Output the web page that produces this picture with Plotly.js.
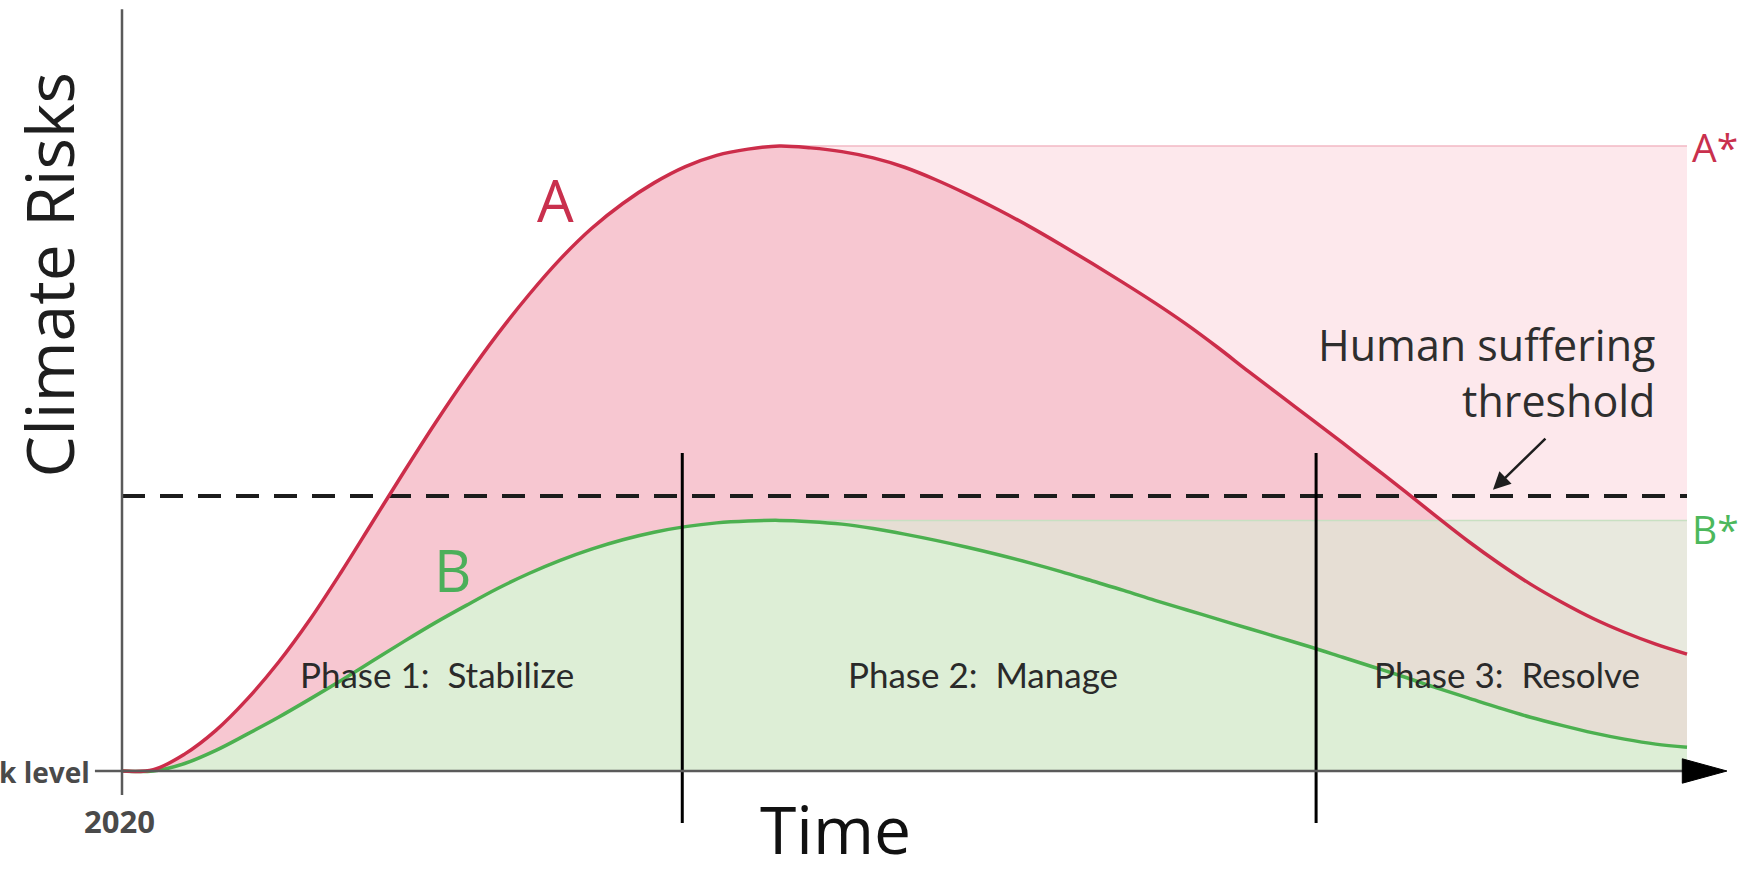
<!DOCTYPE html>
<html>
<head>
<meta charset="utf-8">
<script src="https://cdn.plot.ly/plotly-3.0.1.min.js"></script>
<style>html,body{margin:0;padding:0;background:#fff;}#chart{width:1744px;height:876px;}</style>
</head>
<body>
<div id="chart"></div>
<script>
// ---- data (normalised time 0..100 from 2020, risk 0..100) ----
const timeSteps = [0,2,4,6,8,10,12,14,16,18,20,22,24,26,28,30,32,34,36,38,40,42,44,46,48,50,52,54,56,58,60,62,64,66,68,70,72,74,76,78,80,82,84,86,88,90,92,94,96,98,100];
const riskA = [0,0.2,2.7,6.5,11.5,17.4,24.2,31.8,39.8,47.8,55.6,63.0,69.9,76.2,81.9,86.8,90.8,94.1,96.7,98.5,99.5,100,99.7,99.1,98.1,96.6,94.6,92.3,89.8,87.1,84.2,81.2,78.1,74.9,71.5,67.8,63.9,60.1,56.3,52.5,48.6,44.7,40.7,36.8,33.2,29.9,27.0,24.4,22.2,20.3,18.7];
const riskB = [0,0,1.2,3.3,5.9,8.6,11.5,14.5,17.6,20.7,23.7,26.5,29.2,31.6,33.7,35.5,37.0,38.2,39.1,39.7,40.0,40.1,39.9,39.5,38.8,37.9,36.9,35.8,34.6,33.3,31.9,30.4,28.9,27.3,25.8,24.3,22.8,21.3,19.8,18.2,16.6,15.0,13.3,11.7,10.1,8.6,7.3,6.1,5.1,4.3,3.8];
const sufferingThreshold = 44;
const phaseBoundaries = [35.8, 76.3];
const phaseLabels = ["Phase 1:\u00a0 Stabilize", "Phase 2:\u00a0 Manage", "Phase 3:\u00a0 Resolve"];
const phaseLabelTimes = [20.1, 55.0, 88.5];
const startYearLabel = "2020";
const baselineLabel = "k level";

// ---- derived ----
const tEnd = timeSteps[timeSteps.length - 1];
const aStar = Math.max(...riskA);
const bStar = Math.max(...riskB);
const pA = riskA.indexOf(aStar);
const pB = riskB.indexOf(bStar);

function band(xs, ys, p, level) {
  const bx = xs.slice(p).concat([tEnd, xs[p]]);
  const by = ys.slice(p).concat([level, level]);
  return {x: bx, y: by};
}
const bandA = band(timeSteps, riskA, pA, aStar);
const bandB = band(timeSteps, riskB, pB, bStar);

const RED = '#cc2d4a', GREEN = '#4cb050';

const traces = [
  {x: timeSteps, y: riskA, type: 'scatter', mode: 'none', fill: 'tozeroy', fillcolor: '#f7c7d1', line: {shape: 'spline'}, hoverinfo: 'skip'},
  {x: bandA.x, y: bandA.y, type: 'scatter', mode: 'none', fill: 'toself', fillcolor: '#fde8ec', hoverinfo: 'skip'},
  {x: timeSteps, y: riskB, type: 'scatter', mode: 'none', fill: 'tozeroy', fillcolor: '#ddeed6', line: {shape: 'spline'}, hoverinfo: 'skip'},
  {x: bandB.x, y: bandB.y, type: 'scatter', mode: 'none', fill: 'toself', fillcolor: 'rgba(222,234,214,0.66)', hoverinfo: 'skip'},
  // A* and B* reference levels
  {x: [timeSteps[pA], tEnd], y: [aStar, aStar], type: 'scatter', mode: 'lines', line: {color: '#f2b9c4', width: 1.5}, hoverinfo: 'skip'},
  {x: [timeSteps[pB], tEnd], y: [bStar, bStar], type: 'scatter', mode: 'lines', line: {color: '#c8e0c2', width: 1.5}, hoverinfo: 'skip'},
  // threshold
  {x: [0, tEnd], y: [sufferingThreshold, sufferingThreshold], type: 'scatter', mode: 'lines', line: {color: '#1c1c1c', width: 4, dash: '23px,15px'}, hoverinfo: 'skip'},
  // curves
  {x: timeSteps, y: riskB, type: 'scatter', mode: 'lines', line: {color: GREEN, width: 3.5, shape: 'spline'}, name: 'B'},
  {x: timeSteps, y: riskA, type: 'scatter', mode: 'lines', line: {color: RED, width: 3.5, shape: 'spline'}, name: 'A'},
];
phaseBoundaries.forEach(function (t) {
  traces.push({x: [t, t], y: [50.9, -8.3], type: 'scatter', mode: 'lines', line: {color: '#000', width: 3}, hoverinfo: 'skip', cliponaxis: false});
});

const FONT = 'Open Sans, Noto Sans, sans-serif';
const annotations = [
  {x: -4.75, y: 79.4, text: 'Climate Risks', textangle: -90, showarrow: false, font: {family: FONT, size: 66, color: '#1e1e1e'}},
  {x: 45.6, y: -16.6, yanchor: 'bottom', text: 'Time', showarrow: false, font: {family: FONT, size: 66, color: '#111'}},
  {x: 27.7, y: 91.4, text: 'A', showarrow: false, font: {family: FONT, size: 58, color: '#c9304d'}},
  {x: 21.1, y: 32.2, text: 'B', showarrow: false, font: {family: FONT, size: 58, color: '#4caf5a'}},
  {x: 100.2, y: aStar, text: 'A*', xanchor: 'left', showarrow: false, font: {family: FONT, size: 39, color: '#c9304d'}},
  {x: 100.2, y: bStar - 1.3, text: 'B*', xanchor: 'left', showarrow: false, font: {family: FONT, size: 39, color: '#4cb85c'}},
  {x: 98.1, y: 63.8, text: 'Human suffering<br>threshold', xanchor: 'right', align: 'right', showarrow: false, font: {family: FONT, size: 43, color: '#2e2e2e'}},
  {x: 87.6, y: 45.0, ax: 91.05, ay: 53.4, axref: 'x', ayref: 'y', text: '', showarrow: true, arrowhead: 2, arrowsize: 1.4, arrowwidth: 2.5, arrowcolor: '#1e1e1e'},
  {x: -0.13, y: -8.0, text: startYearLabel, showarrow: false, font: {family: FONT, size: 31, color: '#4a4a4a', weight: 700}},
  {x: -1.9, y: -0.1, text: baselineLabel, xanchor: 'right', showarrow: false, font: {family: FONT, size: 28, color: '#4a4a4a', weight: 700}},
];
phaseLabels.forEach(function (lbl, i) {
  annotations.push({x: phaseLabelTimes[i], y: 15.6, text: lbl, showarrow: false, font: {family: 'Lato, Open Sans, sans-serif', size: 35, color: '#2a2a2a'}});
});

const shapes = [
  // y axis (extends slightly below baseline)
  {type: 'line', xref: 'x', yref: 'y', x0: 0, x1: 0, y0: -3.84, y1: 121.9, line: {color: '#5a5a5a', width: 2.5}, layer: 'above'},
  // x axis with small tick to the left
  {type: 'line', xref: 'x', yref: 'y', x0: -1.73, x1: 100.2, y0: 0, y1: 0, line: {color: '#5a5a5a', width: 2.5}, layer: 'above'},
  // arrow head
  {type: 'path', xref: 'x', yref: 'y', path: 'M 99.7 1.95 L 102.55 0 L 99.7 -1.95 Z', fillcolor: '#000', line: {color: '#000', width: 1}, layer: 'above'},
];

const layout = {
  width: 1744, height: 876,
  margin: {l: 0, r: 0, t: 0, b: 0},
  paper_bgcolor: '#fff', plot_bgcolor: '#fff',
  showlegend: false,
  xaxis: {range: [-7.7955, 103.642], visible: false, fixedrange: true},
  yaxis: {range: [-16.8, 123.36], visible: false, fixedrange: true},
  annotations: annotations,
  shapes: shapes,
};

Plotly.newPlot('chart', traces, layout, {staticPlot: true, displayModeBar: false});
</script>
</body>
</html>
